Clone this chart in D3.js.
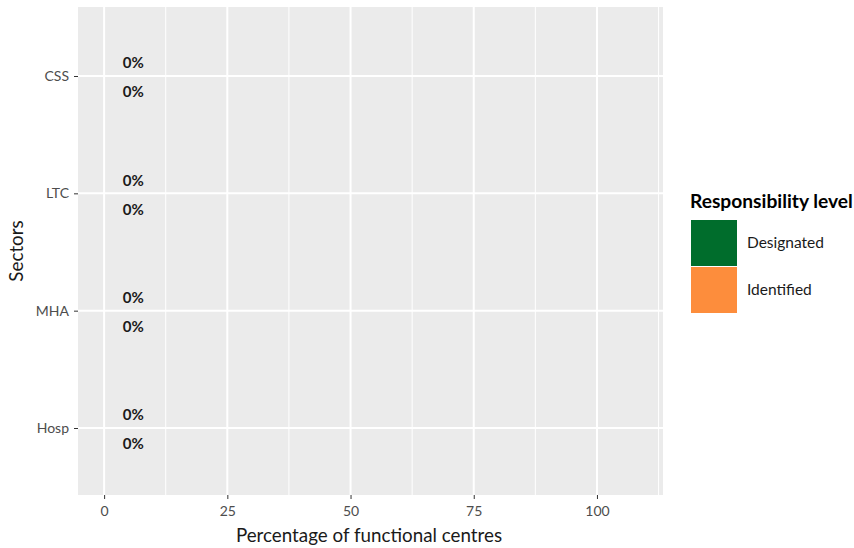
<!DOCTYPE html>
<html><head><meta charset="utf-8">
<script src="https://cdn.jsdelivr.net/npm/d3@7"></script>
<style>body{margin:0;background:#fff;} text{font-family:Lato,"Open Sans",sans-serif;}</style>
</head><body>
<svg id="chart" width="854" height="548"></svg>
<script>
const sectors = ["CSS", "LTC", "MHA", "Hosp"];
const levels = ["Designated", "Identified"];
const designatedValues = [0, 0, 0, 0];
const identifiedValues = [0, 0, 0, 0];
const xTicks = [0, 25, 50, 75, 100];
const xMinor = [12.5, 37.5, 62.5, 87.5, 112.5];
const colors = ["#006d2c", "#fd8d3c"];

const svg = d3.select("#chart");
const panel = {left: 78, right: 663, top: 7, bottom: 495};

const x = d3.scaleLinear().domain([-5.3, 113.4]).range([panel.left, panel.right]);
const y = d3.scalePoint().domain(sectors).range([76, 428]);
const dodge = d3.scaleBand().domain(levels).range([-27.5, 30.5]);

svg.append("rect").attr("x", panel.left).attr("y", panel.top)
  .attr("width", panel.right - panel.left).attr("height", panel.bottom - panel.top)
  .attr("fill", "#ebebeb");

const g = svg.append("g");
g.selectAll(".minor").data(xMinor).join("line")
  .attr("x1", d => x(d)).attr("x2", d => x(d))
  .attr("y1", panel.top).attr("y2", panel.bottom)
  .attr("stroke", "#fff").attr("stroke-width", 1);
g.selectAll(".majx").data(xTicks).join("line")
  .attr("x1", d => x(d)).attr("x2", d => x(d))
  .attr("y1", panel.top).attr("y2", panel.bottom)
  .attr("stroke", "#fff").attr("stroke-width", 2);
g.selectAll(".majy").data(sectors).join("line")
  .attr("x1", panel.left).attr("x2", panel.right)
  .attr("y1", d => y(d)).attr("y2", d => y(d))
  .attr("stroke", "#fff").attr("stroke-width", 2);

// data
const rows = [];
sectors.forEach((s, i) => {
  rows.push({sector: s, level: "Designated", value: designatedValues[i]});
  rows.push({sector: s, level: "Identified", value: identifiedValues[i]});
});
// bars (zero width)
svg.selectAll(".bar").data(rows).join("rect")
  .attr("x", x(0)).attr("width", d => x(d.value) - x(0))
  .attr("y", d => y(d.sector) + dodge(d.level)).attr("height", dodge.bandwidth())
  .attr("fill", d => colors[levels.indexOf(d.level)]);
svg.selectAll(".lab").data(rows).join("text")
  .attr("x", d => x(d.value + 5.9))
  .attr("y", d => y(d.sector) + dodge(d.level) + dodge.bandwidth() / 2)
  .attr("dy", "0.35em").attr("text-anchor", "middle")
  .attr("font-size", 15).attr("font-weight", "bold").attr("fill", "#1a1a1a")
  .text(d => d.value + "%");

// x axis
const xa = svg.append("g").attr("transform", `translate(0,${panel.bottom})`)
  .call(d3.axisBottom(x).tickValues(xTicks).tickSize(4).tickPadding(7));
xa.select(".domain").remove();
xa.selectAll("line").attr("stroke", "#333");
xa.selectAll("text").attr("font-size", 14).attr("fill", "#4d4d4d").attr("font-family", "Lato");

const ya = svg.append("g").attr("transform", `translate(${panel.left},0)`)
  .call(d3.axisLeft(y).tickSize(4).tickPadding(5));
ya.select(".domain").remove();
ya.selectAll("line").attr("stroke", "#333");
ya.selectAll("text").attr("font-size", 14).attr("fill", "#4d4d4d").attr("font-family", "Lato");

svg.append("text").attr("x", 369).attr("y", 542)
  .attr("text-anchor", "middle").attr("font-size", 18.8).attr("fill", "#1a1a1a")
  .text("Percentage of functional centres");
svg.append("text").attr("transform", `translate(23,${(panel.top + panel.bottom) / 2}) rotate(-90)`)
  .attr("text-anchor", "middle").attr("font-size", 18.8).attr("fill", "#1a1a1a")
  .text("Sectors");

// legend
const lg = svg.append("g");
lg.append("text").attr("x", 690).attr("y", 208).attr("font-size", 19.2)
  .attr("font-weight", "bold").attr("fill", "#000").text("Responsibility level");
levels.forEach((l, i) => {
  lg.append("rect").attr("x", 691).attr("y", 220 + i * 47).attr("width", 46).attr("height", 46)
    .attr("fill", colors[i]);
  lg.append("text").attr("x", 747).attr("y", 243 + i * 47).attr("dy", "0.35em")
    .attr("font-size", 15.5).attr("fill", "#1a1a1a").text(l);
});
</script>
</body></html>
